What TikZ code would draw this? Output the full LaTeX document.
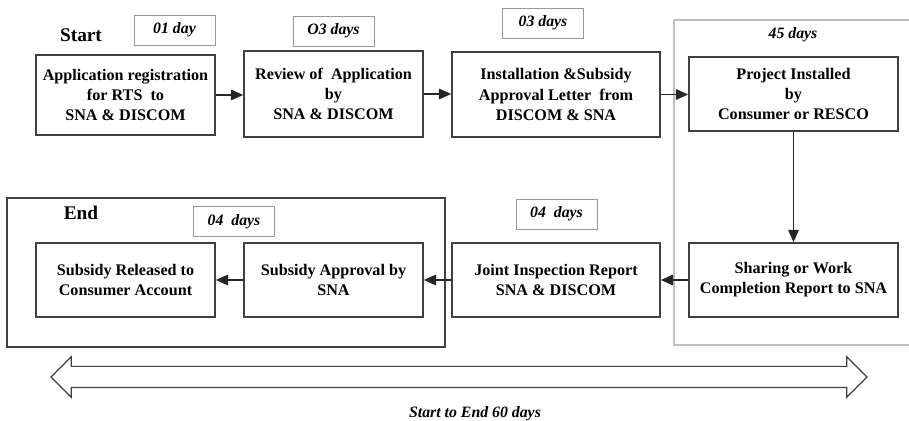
\documentclass[tikz,border=0pt]{standalone}
\usepackage{fontspec}
\setmainfont{Liberation Serif}
\usetikzlibrary{arrows.meta, positioning, shapes.arrows}

\begin{document}
\begin{tikzpicture} [x=0.02cm, y=-0.02cm, semithick,
  stage/.style ={draw=black!75, line width=0.9pt, align=center, inner sep=2pt, minimum height=1.48cm, font=\bfseries\fontsize{9.2}{11.4}\selectfont},
  days/.style ={draw=black!40, line width=0.5pt, minimum width=1.62cm, minimum height=0.6cm, font=\bfseries\itshape\fontsize{9}{11}\selectfont},
  flow/.style ={-{Triangle[length=7pt, width=6pt]}, line width=0.9pt, black!85}]
	\useasboundingbox (0,0) rectangle (909,421);
	% frames
	\draw[black!25, line width=1.5pt] (674,20) rectangle (910,345);
	\draw[black!75, line width=0.9pt] (7,198) rectangle (445,347);
	% top row
	\node[stage, minimum width=3.58cm, minimum height=1.6cm] (regist) at (125.5,95) {Application registration\\for RTS~ to\\SNA \& DISCOM};
	\node[stage, minimum width=3.58cm, minimum height=1.72cm] (review) at (333.5,94) {Review of~ Application\\by\\SNA \& DISCOM};
	\node[stage, minimum width=4.16cm, minimum height=1.7cm] (letter) at (556,94.5) {Installation \&Subsidy\\Approval Letter~ from\\DISCOM \& SNA};
	\node[stage, minimum width=4.18cm] (install) at (793.5,94) {Project Installed\\by\\Consumer or RESCO};
	% bottom row
	\node[stage, minimum width=4.18cm] (report) at (793.5,280) {Sharing or Work\\Completion Report to SNA};
	\node[stage, minimum width=4.16cm] (inspect) at (556,280) {Joint Inspection Report\\SNA \& DISCOM};
	\node[stage, minimum width=3.58cm] (approve) at (333.5,280) {Subsidy Approval by\\SNA};
	\node[stage, minimum width=3.58cm] (release) at (125.5,280) {Subsidy Released to\\Consumer Account};
	% labels
	\node[font=\bfseries\fontsize{11}{13}\selectfont] (start) at (81,35) {Start};
	\node[font=\bfseries\fontsize{11}{13}\selectfont] (end) at (81,213) {End};
	\node[days] (d1) at (174.5,30) {01 day};
	\node[days] (d2) at (333.5,31) {O3 days};
	\node[days] (d3) at (543,23) {03 days};
	\node[font=\bfseries\itshape\fontsize{9}{11}\selectfont] (d4) at (793,35) {45 days};
	\node[days] (d5) at (556.5,214) {04~ days};
	\node[days] (d6) at (234,221.5) {04~ days};
	% connectors
	\draw[flow] (regist.east) -- (regist.east -| review.west);
	\draw[flow] (review.east) -- (review.east -| letter.west);
	\draw[flow] (letter.east) -- (letter.east -| install.west);
	\draw[flow] (install) -- (report);
	\draw[flow] (report) -- (inspect);
	\draw[flow] (inspect) -- (approve);
	\draw[flow] (approve) -- (release);
	% time span
	\node[double arrow, draw=black!75, line width=0.7pt, inner xsep=0pt, inner ysep=0.2cm, minimum height=16.32cm, double arrow head extend=0.19cm] (span) at (459,377) {};
	\node[font=\bfseries\itshape\fontsize{9}{11}\selectfont] (spanlbl) at (475,414) {Start to End 60 days};
\end{tikzpicture}
\end{document}
